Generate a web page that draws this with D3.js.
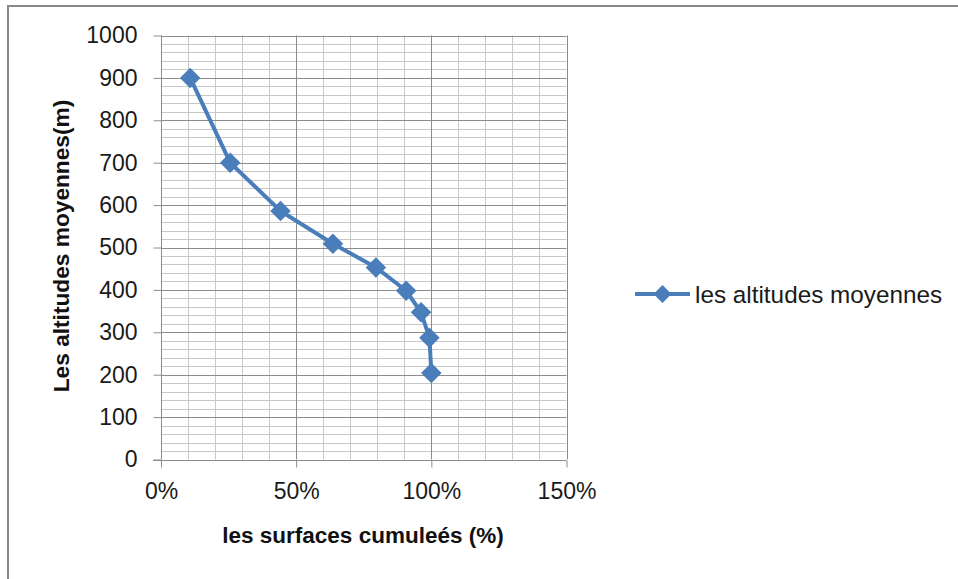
<!DOCTYPE html>
<html><head><meta charset="utf-8">
<script src="https://cdn.jsdelivr.net/npm/d3@7"></script>
<style>body{margin:0;background:#fff}svg{display:block}</style>
</head><body>
<script>
const surfaces = [0.108, 0.256, 0.442, 0.636, 0.795, 0.907, 0.962, 0.993, 1.0];
const altitudes = [900, 700, 586, 509, 453, 398, 347, 287, 204];
const seriesName = "les altitudes moyennes";
const xTicks = [0, 0.5, 1.0, 1.5];
const yTicks = [0,100,200,300,400,500,600,700,800,900,1000];
const xTitle = "les surfaces cumuleés (%)";
const yTitle = "Les altitudes moyennes(m)";

const W = 958, H = 579;
const svg = d3.select("body").append("svg").attr("width", W).attr("height", H);
svg.append("rect").attr("x",0).attr("y",0).attr("width",W).attr("height",H).attr("fill","#fff");
// outer frame (only top and left visible)
svg.append("path").attr("d","M8,"+H+" V6 H"+W).attr("fill","none").attr("stroke","#888").attr("stroke-width",2);

const x = d3.scaleLinear().domain([0,1.5]).range([161,566.5]);
const y = d3.scaleLinear().domain([0,1000]).range([459.5,35.5]);
const font = "'Liberation Sans', Arial, sans-serif";

const g = svg.append("g");
// minor grid
g.selectAll(".vminor").data(d3.range(0.1,1.5001,0.1).filter(v=>Math.abs(v*2-Math.round(v*2))>1e-6))
 .join("line").attr("x1",d=>Math.round(x(d))+0.5).attr("x2",d=>Math.round(x(d))+0.5)
 .attr("y1",y(0)).attr("y2",y(1000)).attr("stroke","#c8c8c8").attr("stroke-width",1);
g.selectAll(".hminor").data(d3.range(20,1000,20).filter(v=>v%100!==0))
 .join("line").attr("x1",x(0)).attr("x2",x(1.5)).attr("y1",d=>Math.round(y(d))+0.5).attr("y2",d=>Math.round(y(d))+0.5)
 .attr("stroke","#c8c8c8").attr("stroke-width",1);
// major grid
g.selectAll(".hmajor").data(yTicks.slice(1))
 .join("line").attr("x1",x(0)).attr("x2",x(1.5)).attr("y1",d=>Math.round(y(d))+0.5).attr("y2",d=>Math.round(y(d))+0.5)
 .attr("stroke","#8c8c8c").attr("stroke-width",1);
g.selectAll(".vmajor").data(xTicks.slice(1))
 .join("line").attr("x1",d=>Math.round(x(d))+0.5).attr("x2",d=>Math.round(x(d))+0.5)
 .attr("y1",y(0)).attr("y2",y(1000)).attr("stroke","#8c8c8c").attr("stroke-width",1);

// axes
const yAxis = d3.axisLeft(y).tickValues(yTicks).tickSize(8).tickPadding(16).tickFormat(d3.format("d"));
const ya = svg.append("g").attr("transform","translate("+(Math.round(x(0))+0.5)+",0)").call(yAxis);
const xAxis = d3.axisBottom(x).tickValues(xTicks).tickSize(7).tickPadding(15).tickFormat(d3.format(".0%"));
const xa = svg.append("g").attr("transform","translate(0,"+(Math.round(y(0))+0.5)+")").call(xAxis);
[ya,xa].forEach(a=>{
  a.select(".domain").remove();
  a.selectAll(".tick line").attr("stroke","#8c8c8c");
  a.selectAll("text").attr("fill","#1a1a1a").style("font-family",font).style("font-size","23px");
});
ya.append("line").attr("x1",0).attr("x2",0).attr("y1",y(0)).attr("y2",y(1000)).attr("stroke","#8c8c8c");
ya.selectAll(".tick").filter(d=>d===0).select("line").attr("x2",-8);
xa.append("line").attr("x1",x(0)-8).attr("x2",x(1.5)).attr("y1",0).attr("y2",0).attr("stroke","#8c8c8c");

// titles
svg.append("text").attr("x",363).attr("y",543).attr("text-anchor","middle")
 .style("font-family",font).style("font-weight","bold").style("font-size","22.5px").attr("fill","#111").text(xTitle);
svg.append("text").attr("transform","translate(69,246) rotate(-90)").attr("text-anchor","middle")
 .style("font-family",font).style("font-weight","bold").style("font-size","22.7px").attr("fill","#111").text(yTitle);

// series
const color = "#4a7ebb";
const pts = surfaces.map((s,i)=>[s,altitudes[i]]);
svg.append("path").datum(pts).attr("fill","none").attr("stroke",color).attr("stroke-width",4).attr("stroke-linejoin","round")
 .attr("d", d3.line().x(d=>x(d[0])).y(d=>y(d[1])));
const sym = d3.symbol().type(d3.symbolSquare).size(210);
svg.selectAll(".pt").data(pts).join("path").attr("d",sym)
 .attr("transform",d=>"translate("+x(d[0])+","+y(d[1])+") rotate(45)").attr("fill",color);

// legend
const lg = svg.append("g").attr("transform","translate(635,294)");
lg.append("line").attr("x1",0).attr("x2",55).attr("y1",0).attr("y2",0).attr("stroke",color).attr("stroke-width",4);
lg.append("path").attr("d",d3.symbol().type(d3.symbolSquare).size(160)).attr("transform","translate(27.5,0) rotate(45)").attr("fill",color);
lg.append("text").attr("x",60).attr("y",0).attr("dy","0.35em").style("font-family",font).style("font-size","24.3px").attr("fill","#1a1a1a").text(seriesName);
</script>
</body></html>
